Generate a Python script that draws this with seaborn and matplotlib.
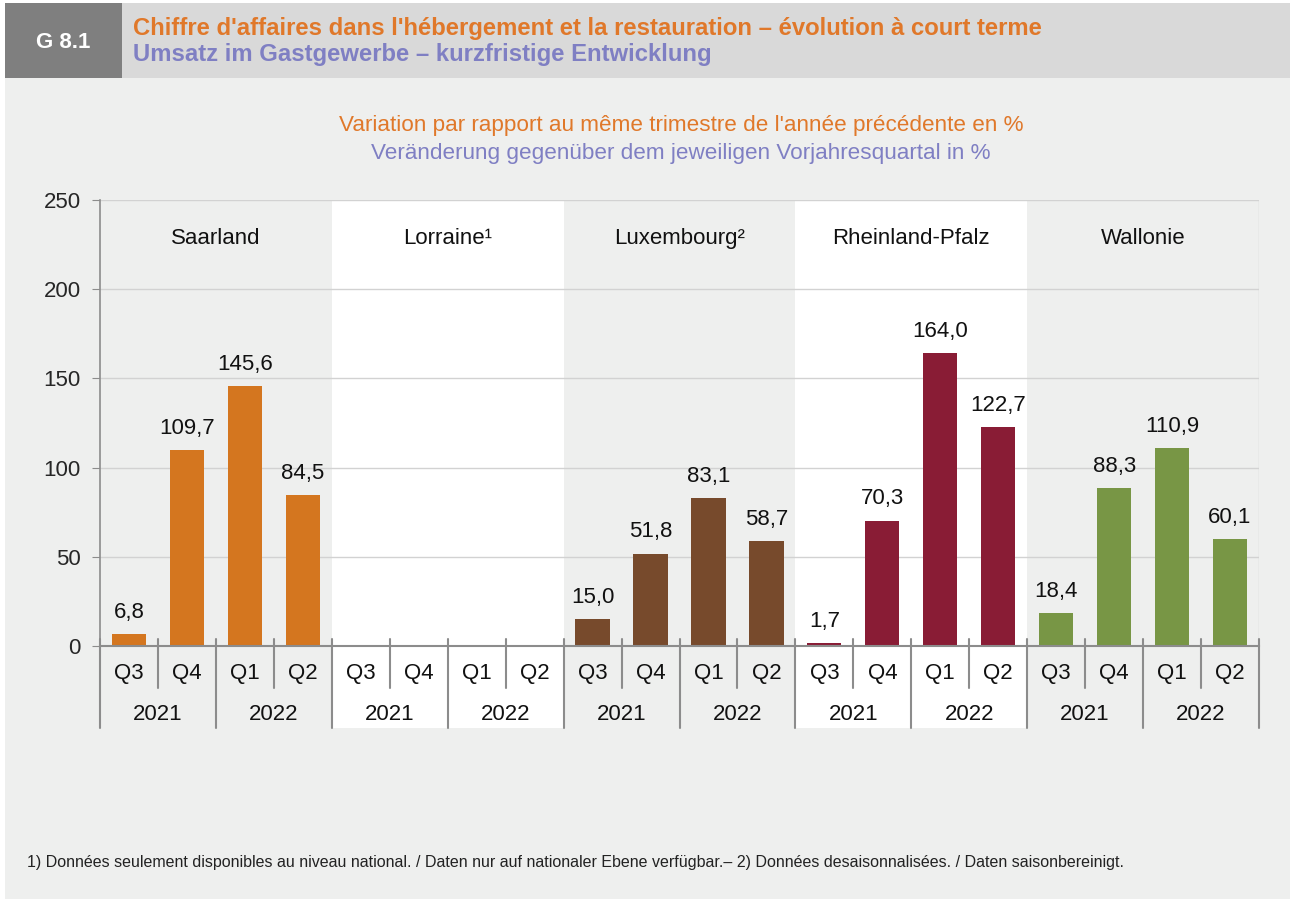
import numpy as np
import pandas as pd
import matplotlib.pyplot as plt
import matplotlib.transforms as mtransforms
from matplotlib.patches import Rectangle
import seaborn as sns

# Data (change vs same quarter of previous year, %)
regions = ["Saarland", "Lorraine", "Luxembourg", "Rheinland-Pfalz", "Wallonie"]
region_labels = ["Saarland", "Lorraine\u00b9", "Luxembourg\u00b2", "Rheinland-Pfalz", "Wallonie"]
quarters = ["Q3", "Q4", "Q1", "Q2"]
years = ["2021", "2022"]
saarland = [6.8, 109.7, 145.6, 84.5]
lorraine = [np.nan, np.nan, np.nan, np.nan]
luxembourg = [15.0, 51.8, 83.1, 58.7]
rheinland = [1.7, 70.3, 164.0, 122.7]
wallonie = [18.4, 88.3, 110.9, 60.1]

colors = {"Saarland": "#D4761F", "Lorraine": "#999999", "Luxembourg": "#774A2C",
          "Rheinland-Pfalz": "#891C35", "Wallonie": "#789645"}

rows = []
for reg, vals in zip(regions, [saarland, lorraine, luxembourg, rheinland, wallonie]):
    for q, v in zip(quarters, vals):
        rows.append({"region": reg, "slot": f"{reg} {q}", "value": v})
df = pd.DataFrame(rows)
slots = list(df["slot"])
df_plot = df.dropna()

BG = "#EEEFEE"
GRID = "#D2D2D2"
AXC = "#8C8C8C"
ORANGE = "#E0782A"
PURPLE = "#7F7FC3"
FS = 16

sns.set_style("white")
plt.rcParams["font.family"] = ["Liberation Sans", "DejaVu Sans"]

W, H = 1290, 899
fig = plt.figure(figsize=(W / 100, H / 100), dpi=100)
fig.patch.set_facecolor("white")

# figure background and header
fig.add_artist(Rectangle((5 / W, 0), 1 - 5 / W, 1 - 3 / H, transform=fig.transFigure,
                         facecolor=BG, edgecolor="none", zorder=-10))
fig.add_artist(Rectangle((122 / W, 1 - 78 / H), 1 - 122 / W, 75 / H, transform=fig.transFigure,
                         facecolor="#D9D9D9", edgecolor="none", zorder=-9))
fig.add_artist(Rectangle((5 / W, 1 - 78 / H), 117 / W, 75 / H, transform=fig.transFigure,
                         facecolor="#7F7F7F", edgecolor="none", zorder=-8))
fig.text(63 / W, 1 - 42 / H, "G 8.1", color="white", fontsize=16, fontweight="bold",
         ha="center", va="center")
fig.text(133 / W, 1 - 28 / H,
         "Chiffre d'affaires dans l'hébergement et la restauration \u2013 évolution à court terme",
         color=ORANGE, fontsize=17.2, fontweight="bold", ha="left", va="center")
fig.text(133 / W, 1 - 55 / H, "Umsatz im Gastgewerbe \u2013 kurzfristige Entwicklung",
         color=PURPLE, fontsize=17.2, fontweight="bold", ha="left", va="center")
fig.text(681 / W, 1 - 126 / H,
         "Variation par rapport au même trimestre de l'année précédente en %",
         color=ORANGE, fontsize=16.2, ha="center", va="center")
fig.text(681 / W, 1 - 153 / H, "Veränderung gegenüber dem jeweiligen Vorjahresquartal in %",
         color=PURPLE, fontsize=16.2, ha="center", va="center")
fig.text(27 / W, 1 - 862 / H,
         "1) Données seulement disponibles au niveau national. / Daten nur auf nationaler Ebene "
         "verfügbar.\u2013 2) Données desaisonnalisées. / Daten saisonbereinigt.",
         color="#222222", fontsize=11.5, ha="left", va="center")

x0, x1, y0, y1 = 100, 1259, 646, 200
ax = fig.add_axes([x0 / W, 1 - y0 / H, (x1 - x0) / W, (y0 - y1) / H])
ax.set_facecolor("none")

sns.barplot(data=df_plot, x="slot", y="value", hue="region", order=slots,
            hue_order=[r for r in regions if r != "Lorraine"], palette=colors,
            dodge=False, width=0.59, saturation=1, linewidth=0, ax=ax, legend=False,
            zorder=3)

ax.set_xlim(-0.5, len(slots) - 0.5)
ax.set_ylim(0, 250)
ax.set_yticks([0, 50, 100, 150, 200, 250])
ax.set_xlabel("")
ax.set_ylabel("")
ax.set_xticks([])
ax.tick_params(axis="y", length=6, color=AXC, labelsize=FS, pad=8, left=True)
for s in ["top", "right"]:
    ax.spines[s].set_visible(False)
ax.spines["left"].set_color(AXC)
ax.spines["bottom"].set_color(AXC)
ax.spines["left"].set_linewidth(1.2)
ax.spines["bottom"].set_linewidth(1.5)
ax.spines["bottom"].set_zorder(4)

for g in [50, 100, 150, 200, 250]:
    ax.axhline(g, color=GRID, lw=1, zorder=1)
ax.plot([len(slots) - 0.5] * 2, [0, 250], color=GRID, lw=1, zorder=1)

trans = mtransforms.blended_transform_factory(ax.transData, ax.transAxes)
bot_long = -(728 - 646) / 446
bot_short = -(688 - 646) / 446
top_tick = 7 / 446

# alternating white panels (Lorraine, Rheinland-Pfalz)
for i in [1, 3]:
    ax.add_patch(Rectangle((i * 4 - 0.5, bot_long), 4, 1 - bot_long, transform=trans,
                           facecolor="white", edgecolor="none", zorder=0, clip_on=False))

for i, lab in enumerate(region_labels):
    ax.text(i * 4 + 1.5, 228.5, lab, ha="center", va="center", fontsize=FS, color="#111111")

# category axis: quarters and years
for k in range(len(slots) + 1):
    xk = k - 0.5
    bottom = bot_long if k % 2 == 0 else bot_short
    ax.plot([xk, xk], [top_tick, bottom], transform=trans, color=AXC, lw=1.5,
            clip_on=False, zorder=4)
for k, s in enumerate(slots):
    ax.text(k, -28 / 446, quarters[k % 4], transform=trans, ha="center", va="center",
            fontsize=FS, color="#111111")
for k in range(0, len(slots), 2):
    ax.text(k + 0.5, -69 / 446, years[(k // 2) % 2], transform=trans, ha="center",
            va="center", fontsize=FS, color="#111111")

for cont in ax.containers:
    labels = [f"{v:.1f}".replace(".", ",") for v in cont.datavalues]
    ax.bar_label(cont, labels=labels, padding=8, fontsize=FS, color="#111111")

fig.savefig("out.png", dpi=100, facecolor=fig.get_facecolor())
